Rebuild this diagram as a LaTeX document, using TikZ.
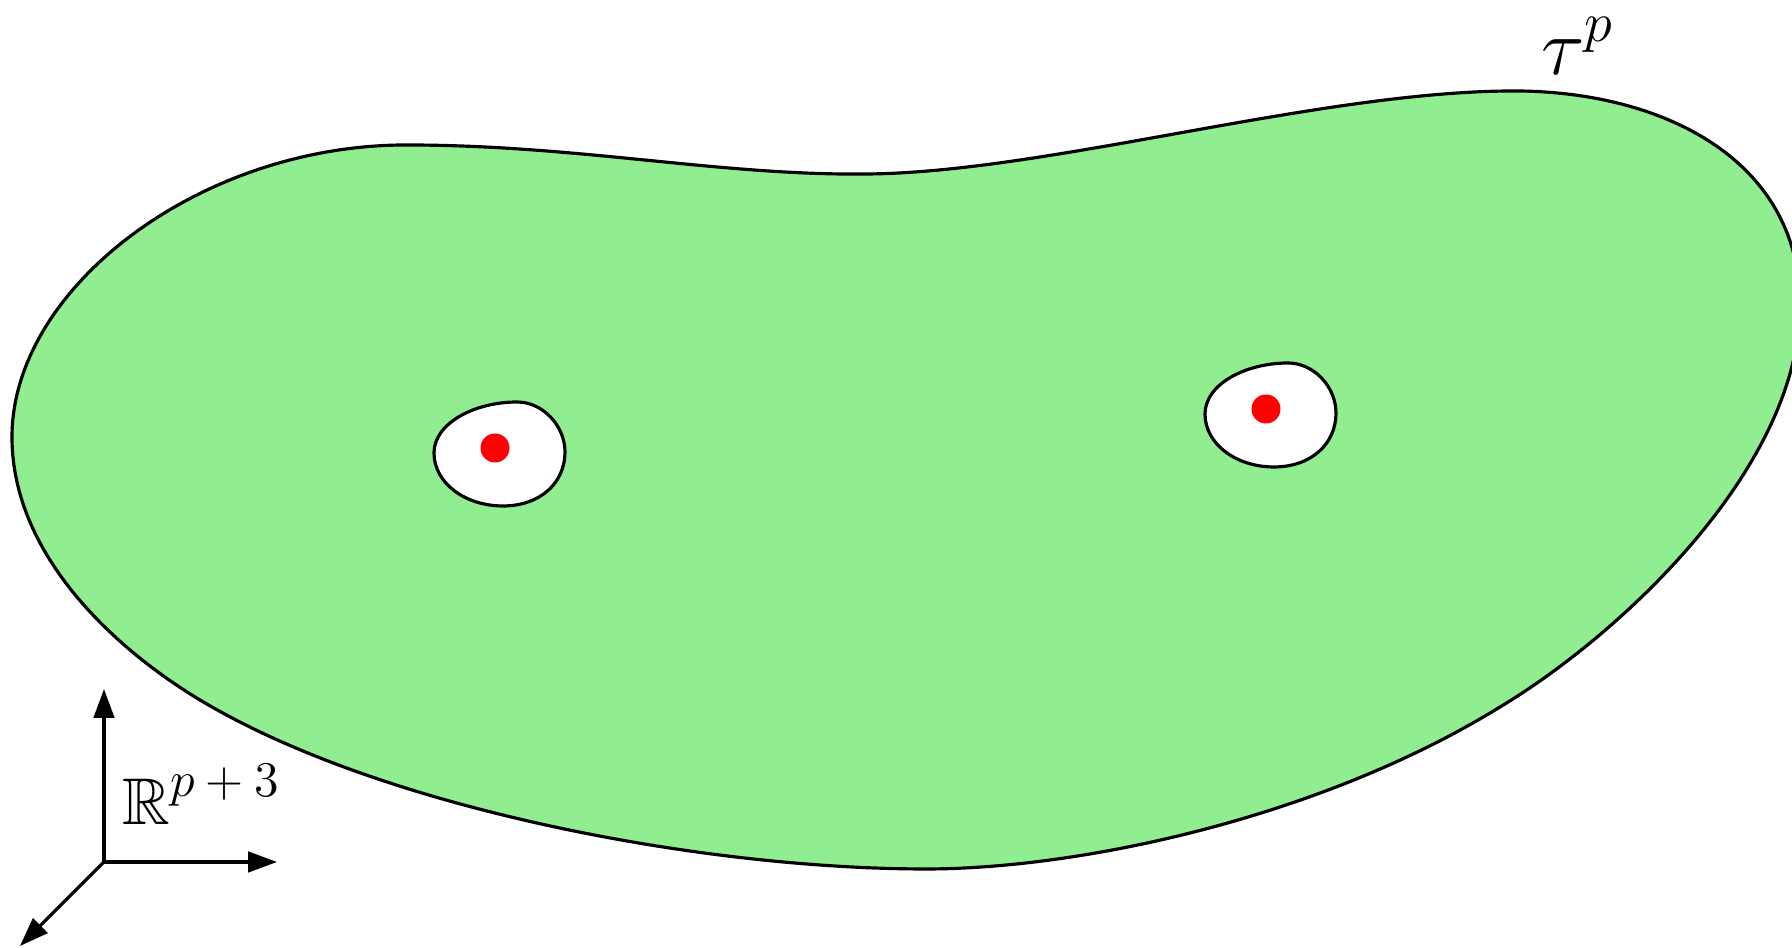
\documentclass[tikz,border=0pt]{standalone}
\usepackage{fix-cm}
\usepackage{amssymb}
\usetikzlibrary{arrows.meta}
\definecolor{lightgreen}{RGB}{144,238,144}

\begin{document}
\begin{tikzpicture}[x=1cm,y=1cm,line width=0.9pt,
  blob/.style={draw=black,fill=lightgreen},
  hole/.style={draw=black,fill=white},
  dot/.style={circle,fill=red,inner sep=0pt,minimum size=0.29cm},
  axis/.style={-{Triangle[length=8.2pt,width=5.8pt]}},
  lbl/.style={inner sep=0pt,anchor=base west}]
\useasboundingbox (0,0) rectangle (17.92,9.48);
% the manifold
\draw[blob] (0.12,5.11)
  .. controls (0.12,6.6) and (2.0,8.03) .. (4.06,8.03)
  .. controls (5.8,8.03) and (7.2,7.72) .. (8.69,7.74)
  .. controls (10.5,7.76) and (13.2,8.57) .. (15.14,8.57)
  .. controls (16.6,8.57) and (18.0,7.9) .. (18.0,6.43)
  .. controls (18.0,4.8) and (16.2,3.13) .. (15.0,2.41)
  .. controls (13.2,1.3) and (10.8,0.79) .. (9.26,0.79)
  .. controls (7.0,0.79) and (3.8,1.40) .. (2.0,2.48)
  .. controls (1.2,2.96) and (0.12,3.9) .. cycle;
% punctures
\node[dot] (d1) at (4.95,5.00) {};
\node[dot] (d2) at (12.66,5.39) {};
\foreach \d in {d1,d2}{
  \draw[hole,shift={(\d)}] (-0.61,-0.05)
    .. controls (-0.61,0.25) and (-0.2,0.46) .. (0.22,0.46)
    .. controls (0.48,0.46) and (0.70,0.22) .. (0.70,-0.04)
    .. controls (0.70,-0.35) and (0.45,-0.58) .. (0.08,-0.58)
    .. controls (-0.3,-0.58) and (-0.61,-0.35) .. cycle;
}
\node[dot] at (d1) {};
\node[dot] at (d2) {};
\node[lbl] (tau) at (15.40,8.73)
  {{\fontsize{23}{27}\selectfont$\tau$}\raisebox{9.6pt}{\fontsize{16}{19}\selectfont$p$}};
% axes
\coordinate (o) at (1.04,0.86);
\coordinate (oy) at (1.04,2.59);
\coordinate (ox) at (2.77,0.86);
\coordinate (oz) at (0.20,0.02);
\draw[axis] (o) -- (oy);
\draw[axis] (o) -- (ox);
\draw[axis] (o) -- (oz);
\node[lbl] (space) at (1.21,1.23)
  {{\fontsize{18.8}{22}\selectfont$\mathbb{R}$}\raisebox{8pt}{\fontsize{14.2}{17}\selectfont$p+3$}};
\end{tikzpicture}
\end{document}
